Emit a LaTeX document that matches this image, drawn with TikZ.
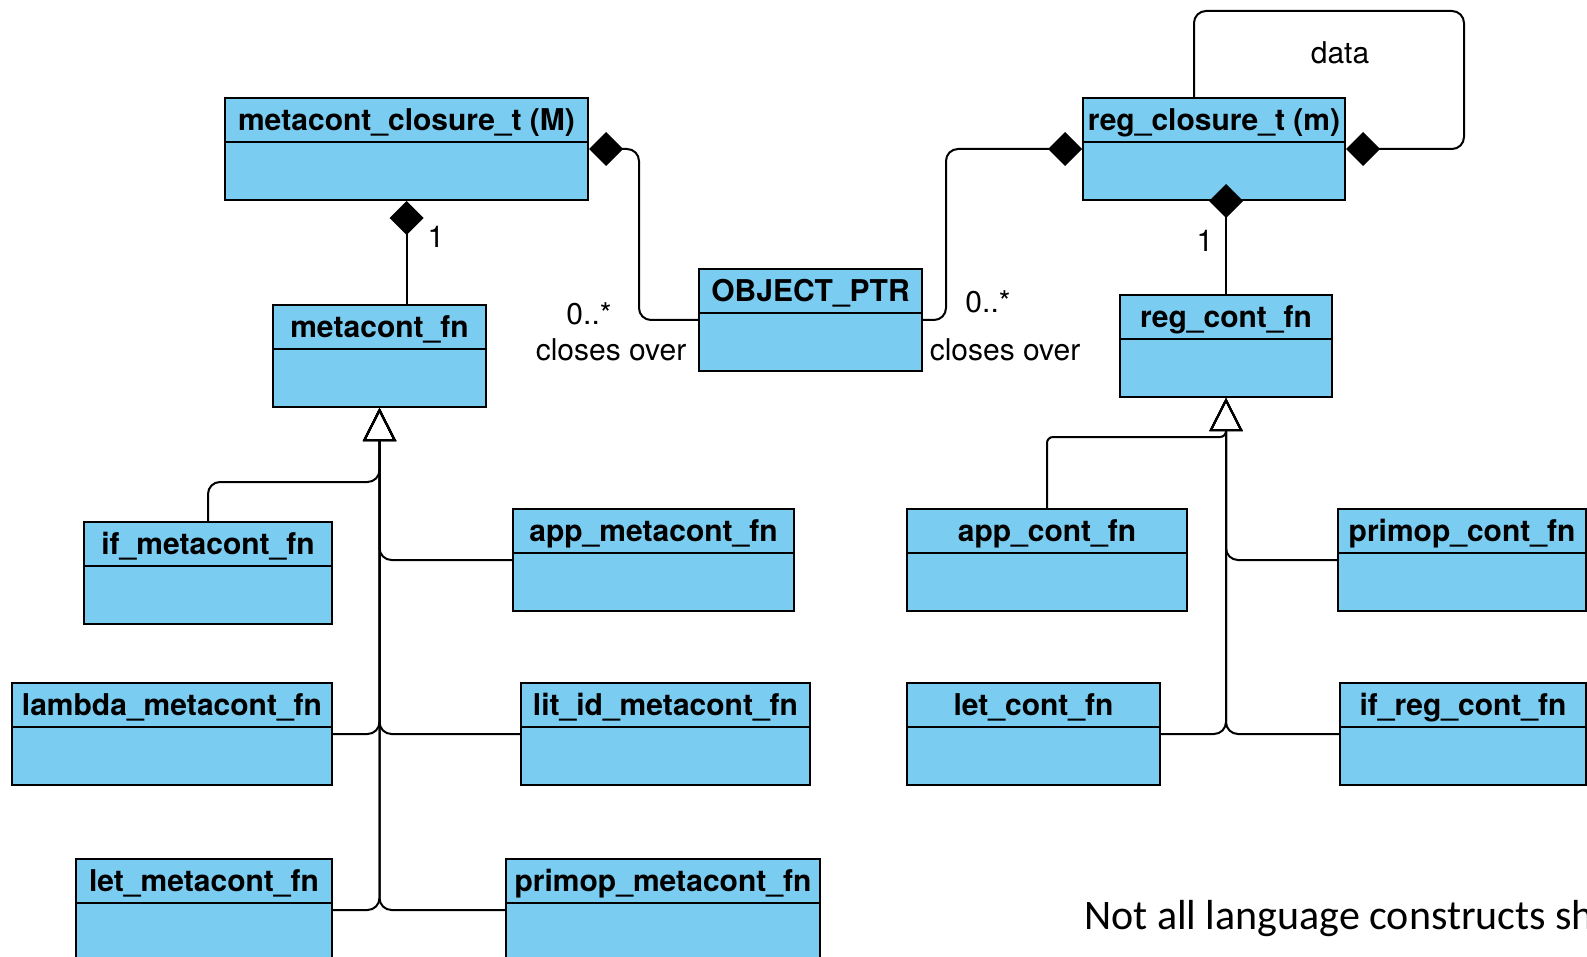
\documentclass[tikz,border=0pt]{standalone}
\usepackage{fontspec}
\setmainfont{TeX Gyre Heros}
\newfontfamily\notefont{Carlito}
\usepackage{tikz}
\usetikzlibrary{
	positioning,
	arrows.meta,
	calc
}
\definecolor{ClassBlue}{RGB}{122,204,240}

\tikzset{
	classbox/.style={
		draw,
		line width=2pt,
		fill=ClassBlue,
		minimum height=102pt,
		inner sep=0pt,
		anchor=north west
	},
	classtitle/.style={
		anchor=north,
		minimum height=45pt,
		inner sep=0pt,
		text height=24pt,
		text depth=3pt,
		font=\fontsize{30}{36}\selectfont\bfseries
	},
	assoclabel/.style={
		inner sep=0pt,
		font=\fontsize{30}{36}\selectfont
	},
	comp/.style={
		{Diamond[length=34pt, width=34pt]}-,
		line width=2pt,
		rounded corners=12pt
	},
	inh/.style={
		-{Triangle[open, length=33pt, width=33pt]},
		line width=2pt,
		rounded corners=12pt
	}
}

% class box: name, left, top, width, title
\newcommand{\umlclass}[5]{%
	\node[classbox, minimum width=#4pt] (#1) at (#2,#3) {};
	\node[classtitle] (#1-title) at (#1.north) {#5};
	\draw[line width=2pt] (#1-title.south -| #1.west) -- (#1-title.south -| #1.east);
}

\begin{document}
\begin{tikzpicture}[x=1pt, y=-1pt]
				
				\useasboundingbox (0,0) rectangle (1587,957);
				\clip (0,0) rectangle (1587,957);
				\fill[white] (0,0) rectangle (1587,957);
				
				% closures and the shared pointer
				\umlclass{M}{224}{97}{363}{metacont\_closure\_t (M)}
				\umlclass{mfn}{272}{304}{213}{metacont\_fn}
				\umlclass{optr}{698}{268}{223}{OBJECT\_PTR}
				\umlclass{m}{1082}{97}{262}{reg\_closure\_t (m)}
				\umlclass{rfn}{1119}{294}{212}{reg\_cont\_fn}
				
				% metacont subclasses
				\umlclass{ifm}{83}{521}{248}{if\_metacont\_fn}
				\umlclass{appm}{512}{508}{281}{app\_metacont\_fn}
				\umlclass{lamm}{11}{682}{320}{lambda\_metacont\_fn}
				\umlclass{litm}{520}{682}{289}{lit\_id\_metacont\_fn}
				\umlclass{letm}{75}{858}{256}{let\_metacont\_fn}
				\umlclass{prim}{505}{858}{314}{primop\_metacont\_fn}
				
				% reg_cont subclasses
				\umlclass{appc}{906}{508}{280}{app\_cont\_fn}
				\umlclass{prc}{1337}{508}{248}{primop\_cont\_fn}
				\umlclass{letc}{906}{682}{253}{let\_cont\_fn}
				\umlclass{ifrc}{1339}{682}{246}{if\_reg\_cont\_fn}
				
				% compositions
				\draw[comp] (M.east) -- ++(50,0) |- (optr.west);
				\draw[comp] (m.west) -- ++(-136,0) |- (optr.east);
				\draw[comp] (m.east) -- ++(118,0) -- ++(0,-138) -| ([xshift=-20pt]m.north);
				\draw[comp] (M.south) -- (M.south |- mfn.north);
				\draw[comp] ($(m.south -| rfn.north)+(0,-17)$) -- (rfn.north);
				
				\node[assoclabel] (lmult) at (589,314) {0..*};
				\node[assoclabel] (lrole) at (611,350) {closes over};
				\node[assoclabel] (rmult) at (988,302) {0..*};
				\node[assoclabel] (rrole) at (1005,350) {closes over};
				\node[assoclabel] (mone) at (436,237) {1};
				\node[assoclabel] (rone) at (1205,241) {1};
				\node[assoclabel] (dlabel) at (1340,53) {data};
				
				% generalisations
				\draw[inh] (ifm.north) -- ++(0,-39) -| (mfn.south);
				\foreach \child in {appm, litm, prim}
					\draw[inh] (\child.west) -| (mfn.south);
				\foreach \child in {lamm, letm}
					\draw[inh] (\child.east) -| (mfn.south);
				
				\draw[inh, rounded corners=6pt] (appc.north) -- ++(0,-71) -| (rfn.south);
				\foreach \child in {prc, ifrc}
					\draw[inh] (\child.west) -| (rfn.south);
				\draw[inh] (letc.east) -| (rfn.south);
				
				\node[
				anchor=base west,
				inner sep=0pt,
				font=\notefont\fontsize{42}{50}\selectfont
				]
				(note) at (1084,929) {Not all language constructs shown};
				
			\end{tikzpicture}
\end{document}
